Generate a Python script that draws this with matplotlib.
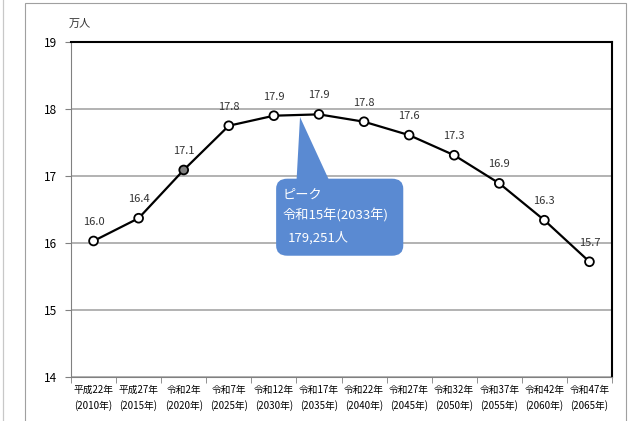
import matplotlib.pyplot as plt
from matplotlib.patches import FancyBboxPatch, Polygon, Rectangle

plt.rcParams["font.family"] = ["Noto Sans CJK JP", "DejaVu Sans"]

# data
years = ["平成22年\n(2010年)", "平成27年\n(2015年)", "令和2年\n(2020年)", "令和7年\n(2025年)",
         "令和12年\n(2030年)", "令和17年\n(2035年)", "令和22年\n(2040年)", "令和27年\n(2045年)",
         "令和32年\n(2050年)", "令和37年\n(2055年)", "令和42年\n(2060年)", "令和47年\n(2065年)"]
population = [16.03, 16.37, 17.09, 17.75, 17.90, 17.92, 17.81, 17.61, 17.31, 16.89, 16.34, 15.72]
labels = ["16.0", "16.4", "17.1", "17.8", "17.9", "17.9", "17.8", "17.6", "17.3", "16.9", "16.3", "15.7"]
yticks = [14, 15, 16, 17, 18, 19]

fig = plt.figure(figsize=(6.43, 4.21), dpi=100)

# outer frames
fig.patches.append(Rectangle((3 / 643, -0.1), 0, 1.2, transform=fig.transFigure,
                             fill=False, edgecolor="#c8c8c8", lw=0.8))
fig.patches.append(Rectangle((25 / 643, -0.1), 601 / 643, (421 - 3) / 421 + 0.1,
                             transform=fig.transFigure, fill=False,
                             edgecolor="#a0a0a0", lw=0.8))

ax = fig.add_axes([71 / 643, 44 / 421, 541 / 643, 335 / 421])
x = list(range(len(years)))

ax.set_xlim(-0.5, len(years) - 0.5)
ax.set_ylim(14, 19)
ax.set_yticks(yticks)
ax.tick_params(axis="y", length=4, color="#808080", labelsize=8.5, pad=6)
ax.grid(axis="y", color="#a6a6a6", lw=1.2)
ax.set_axisbelow(True)

ax.set_xticks(x)
ax.set_xticklabels(years, fontsize=7, linespacing=1.5)
ax.tick_params(axis="x", length=0, pad=6)
ax.set_xticks([i - 0.5 for i in range(len(years) + 1)], minor=True)
ax.tick_params(axis="x", which="minor", length=4, color="#808080")

ax.spines["left"].set_color("#808080")
ax.spines["bottom"].set_color("#808080")
ax.spines["top"].set_color("black")
ax.spines["top"].set_linewidth(1.5)
ax.spines["right"].set_color("black")
ax.spines["right"].set_linewidth(1.5)

facecolors = ["white"] * len(years)
facecolors[2] = "#808080"
ax.plot(x, population, color="black", lw=1.6, zorder=3)
ax.scatter(x, population, s=40, facecolors=facecolors, edgecolors="black",
           linewidths=1.3, zorder=4)

for xi, v, t in zip(x, population, labels):
    ax.annotate(t, (xi, v), xytext=(0, 10), textcoords="offset points",
                ha="center", va="bottom", fontsize=8, color="#333333")

ax.text(-0.3, 19.27, "万人", fontsize=8, color="#333333", ha="center", va="center")

# peak callout
blue = "#5a8ad2"
ax.add_patch(Polygon([(4.58, 17.88), (4.5, 16.9), (5.25, 16.9)], closed=True,
                     facecolor=blue, edgecolor="none", zorder=5))
ax.add_patch(FancyBboxPatch((4.05, 15.81), 2.82, 1.15,
                            boxstyle="round,pad=0,rounding_size=0.25",
                            mutation_aspect=0.6, facecolor=blue,
                            edgecolor="none", zorder=5))
ax.text(4.2, 16.72, "ピーク", color="white", fontsize=9.5, va="center", zorder=6)
ax.text(4.2, 16.41, "令和15年(2033年)", color="white", fontsize=9.5, va="center", zorder=6)
ax.text(4.3, 16.08, "179,251人", color="white", fontsize=9.5, va="center", zorder=6)

fig.savefig("out.png", dpi=100)
